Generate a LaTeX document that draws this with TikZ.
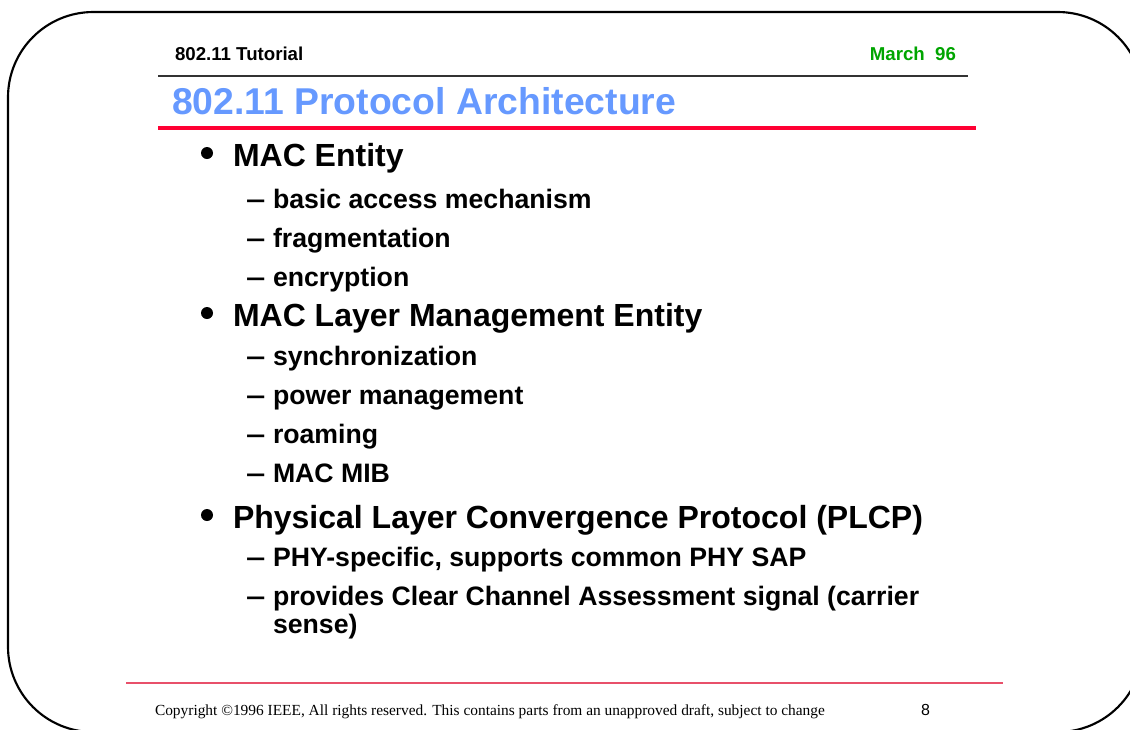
\documentclass[tikz,border=0pt]{standalone}
\usepackage{fontspec}
\setmainfont{Liberation Sans}
\newfontfamily\footfont{Liberation Serif}
\definecolor{titleblue}{RGB}{102,153,255}
\definecolor{headred}{RGB}{255,0,51}
\definecolor{footred}{RGB}{232,80,106}
\definecolor{dategreen}{RGB}{0,165,0}
\begin{document}
\begin{tikzpicture}[x=0.75pt,y=-0.75pt,
  base/.style={anchor=base west,inner sep=0pt,outer sep=0pt},
  headtxt/.style={base,font=\bfseries\fontsize{14pt}{16pt}\selectfont},
  titletxt/.style={base,font=\bfseries\fontsize{28pt}{32pt}\selectfont,text=titleblue},
  lvlone/.style={base,font=\bfseries\fontsize{24pt}{28pt}\selectfont},
  lvltwo/.style={base,font=\bfseries\fontsize{20pt}{24pt}\selectfont},
  dashmark/.style={base,font=\bfseries\fontsize{20pt}{24pt}\selectfont},
  bulletdot/.style={fill=black,draw=none},
  foottxt/.style={base,font=\footfont\fontsize{11.55pt}{14pt}\selectfont}]
\useasboundingbox (0,0) rectangle (1130,729);
\begin{scope}
\clip (0,0) rectangle (1130,729);
\draw[line width=1.6pt, rounded corners=64pt] (8,12) rectangle (1143,732);
\end{scope}

% header
\node[headtxt] (tut) at (175,60) {802.11 Tutorial};
\node[headtxt,anchor=base east,text=dategreen] (date) at (956,60) {March\ \ 96};
\coordinate (hl1) at (158,76);
\coordinate (hl2) at (968,76);
\draw[line width=0.8pt,black!80] (hl1) -- (hl2);

% title
\node[titletxt] (title) at (172,114) {802.11 Protocol Architecture};
\coordinate (rl1) at (158,128);
\coordinate (rl2) at (976,128);
\draw[line width=3.2pt,headred] (rl1) -- (rl2);

% level one bullets
\fill[bulletdot] (207,153) circle (6);
\node[lvlone] (b1) at (233,166) {MAC Entity};
\fill[bulletdot] (207,313) circle (6);
\node[lvlone] (b2) at (233,326) {MAC Layer Management Entity};
\fill[bulletdot] (207,515) circle (6);
\node[lvlone] (b3) at (233,528) {Physical Layer Convergence Protocol (PLCP)};

% level two items
\foreach \yy/\nm/\tx in {208/s1/basic access mechanism,
                         247/s2/fragmentation,
                         286/s3/encryption,
                         365/s4/synchronization,
                         404/s5/power management,
                         443/s6/roaming,
                         482/s7/MAC MIB,
                         566/s8/{PHY-specific, supports common PHY SAP},
                         605/s9/provides Clear Channel Assessment signal (carrier}{
  \node[dashmark] (d\nm) at (246,\yy) {\scalebox{1.3}[1]{–}};
  \node[lvltwo] (\nm) at (273,\yy) {\tx};
}
\node[lvltwo] (s9b) at (273,633) {sense)};

% footer
\coordinate (fl1) at (126,683);
\coordinate (fl2) at (1003,683);
\draw[line width=1.4pt,footred] (fl1) -- (fl2);
\node[foottxt] (copy) at (155,715) {Copyright \textcopyright1996 IEEE, All rights reserved. This contains parts from an unapproved draft, subject to change};
\node[base,font=\fontsize{12pt}{14pt}\selectfont] (pg) at (921,715) {8};
\end{tikzpicture}
\end{document}
